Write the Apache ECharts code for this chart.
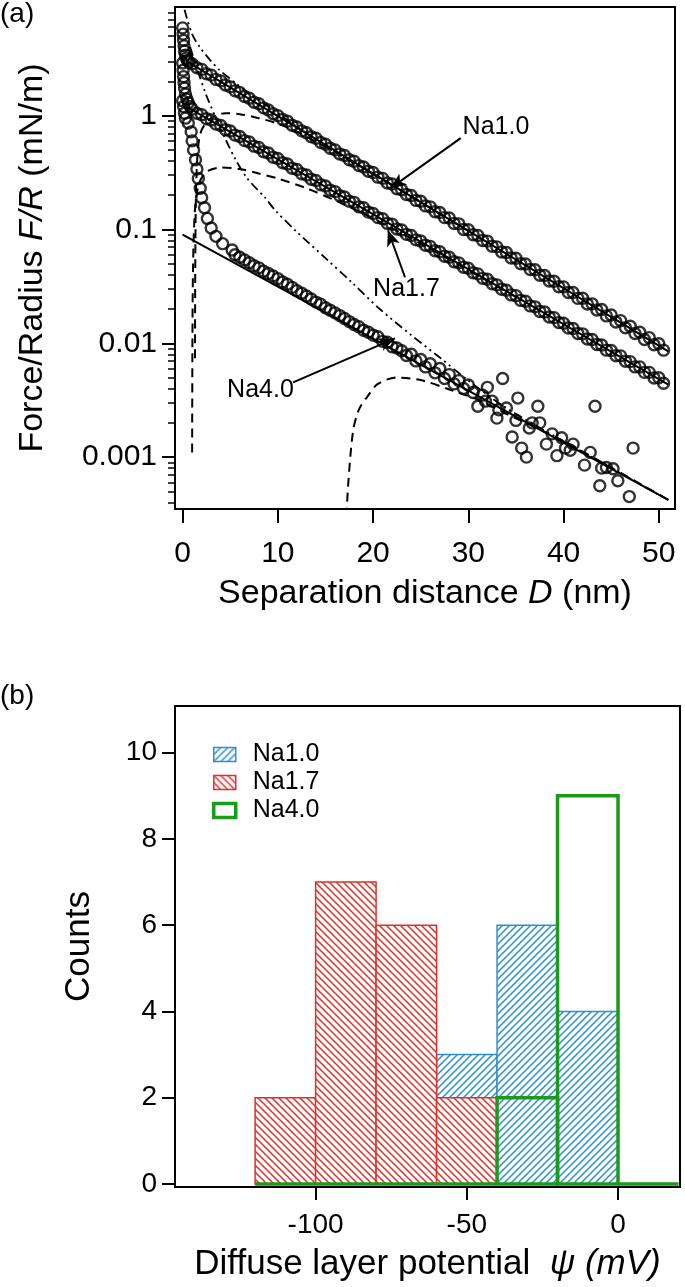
<!DOCTYPE html>
<html><head><meta charset="utf-8">
<script src="https://cdn.jsdelivr.net/npm/echarts@6/dist/echarts.min.js"></script>
<style>html,body{margin:0;padding:0;background:#fff;}#c{width:685px;height:1287px;}</style>
</head><body><div id="c"></div>
<script>
// ================= Panel (a) data =================
// shared separation grid for Na1.0 / Na1.7 (nm)
const D_GRID = [1,1.5,2,2.5,3,3.5,4,4.5,5,5.5,6,6.5,7,7.5,8,8.5,9,9.5,10,10.5,11,11.5,12,12.5,13,13.5,14,14.5,15,15.5,16,16.5,17,17.5,18,18.5,19,19.5,20,20.5,21,21.5,22,22.5,23,23.5,24,24.5,25,25.5,26,26.5,27,27.5,28,28.5,29,29.5,30,30.5,31,31.5,32,32.5,33,33.5,34,34.5,35,35.5,36,36.5,37,37.5,38,38.5,39,39.5,40,40.5,41,41.5,42,42.5,43,43.5,44,44.5,45,45.5,46,46.5,47,47.5,48,48.5,49,49.5,50,50.5];
const na10_F = [2.85,2.63,2.55,2.33,2.27,2.08,2.02,1.86,1.79,1.65,1.60,1.47,1.42,1.31,1.27,1.17,1.12,1.04,1.00,0.925,0.895,0.822,0.795,0.735,0.708,0.652,0.632,0.581,0.561,0.517,0.500,0.460,0.446,0.410,0.397,0.364,0.354,0.325,0.316,0.288,0.281,0.256,0.251,0.228,0.223,0.203,0.199,0.180,0.177,0.161,0.158,0.143,0.141,0.127,0.126,0.113,0.112,0.100,0.0995,0.0898,0.0885,0.0800,0.0790,0.0712,0.0703,0.0633,0.0627,0.0562,0.0558,0.0500,0.0497,0.0445,0.0443,0.0396,0.0394,0.0352,0.0351,0.0314,0.0313,0.0279,0.0279,0.0248,0.0249,0.0221,0.0222,0.0196,0.0198,0.0174,0.0177,0.0154,0.0158,0.0137,0.0141,0.0122,0.0125,0.0108,0.0112,0.0097,0.0099,0.0087];
const na17_F = [1.14,1.05,1.02,0.94,0.915,0.842,0.818,0.752,0.733,0.674,0.656,0.603,0.587,0.539,0.525,0.482,0.469,0.431,0.420,0.386,0.376,0.345,0.336,0.309,0.301,0.276,0.269,0.247,0.241,0.221,0.215,0.198,0.193,0.177,0.173,0.158,0.155,0.142,0.138,0.127,0.124,0.113,0.111,0.101,0.0990,0.0905,0.0885,0.0810,0.0792,0.0726,0.0710,0.0650,0.0636,0.0582,0.0569,0.0520,0.0509,0.0465,0.0456,0.0416,0.0407,0.0372,0.0365,0.0333,0.0326,0.0298,0.0292,0.0266,0.0262,0.0238,0.0234,0.0213,0.0209,0.0190,0.0188,0.0170,0.0168,0.0152,0.0150,0.0136,0.0135,0.0122,0.0121,0.0109,0.0108,0.00975,0.00965,0.00870,0.00865,0.00778,0.00775,0.00695,0.00690,0.00620,0.00620,0.00555,0.00555,0.00495,0.00498,0.00445];
// contact (hard-wall) clusters near D = 0
const na10_contactD = [0.0,0.05,0.1,0.15,0.2,0.3,0.4,0.5,0.7];
const na10_contactF = [5.9,5.2,4.6,4.1,3.7,3.4,3.2,3.05,2.95];
const na17_contactD = [0.0,0.05,0.1,0.15,0.2,0.3,0.45,0.6,0.8];
const na17_contactF = [2.9,2.5,2.2,1.95,1.75,1.55,1.4,1.3,1.2];
// Na4.0 points
const na40_D = [0.0,0.1,0.2,0.3,0.6,0.9,1.0,1.15,1.35,1.5,1.65,1.85,2.0,2.3,2.6,3.0,3.5,4.2,5.2,5.5,6,6.5,7,7.5,8,8.5,9,9.5,10,10.5,11,11.5,12,12.5,13,13.5,14,14.5,15,15.5,16,16.5,17,17.5,18,18.5,19,19.5,20,20.5,21,21.5,22,22.5,23,23.5,24,24.5,25,25.5,26,26.5,27,27.5,28,28.5,29,29.5,30,30.5,31,31.5,32,32.5,33,33.6,34,34.6,35.2,35.6,36.1,36.7,37.3,37.5,38.2,39.3,39.8,40.7,41.0,42.2,43.3,43.8,44.5,45.2,45.7,46.9,47.3,31.8,33.2,35.0,36.4,38.8,40.2,42.8,44.0];
const na40_F = [1.35,1.2,1.05,0.95,0.86,0.72,0.60,0.50,0.41,0.34,0.28,0.23,0.19,0.155,0.125,0.103,0.087,0.075,0.066,0.060,0.057,0.054,0.051,0.048,0.046,0.043,0.041,0.039,0.037,0.0345,0.033,0.031,0.029,0.0275,0.026,0.0245,0.023,0.022,0.0205,0.0195,0.0185,0.0175,0.0165,0.0155,0.0146,0.014,0.013,0.0125,0.0118,0.0114,0.0104,0.0102,0.0093,0.0091,0.0086,0.0078,0.0080,0.0070,0.0072,0.0062,0.0066,0.0055,0.0060,0.0049,0.0053,0.0044,0.0047,0.0040,0.0043,0.0037,0.0028,0.0035,0.0041,0.0031,0.0022,0.0049,0.0027,0.0015,0.0033,0.0012,0.0010,0.0020,0.0028,0.0020,0.0013,0.00103,0.00148,0.00115,0.0013,0.00085,0.0028,0.00056,0.00081,0.00079,0.00062,0.00045,0.0012,0.0031,0.0026,0.0021,0.0018,0.0016,0.0012,0.0011,0.0008];
// fitted exponential lines (end points)
const fit10 = [[0.5,2.98],[51,0.0085]];
const fit17 = [[0.5,1.19],[51,0.00434]];
const fit40 = [[0.0,0.09],[51,0.00042]];
// model curves (dashed)
const dash10_D = [1.3,1.33,1.4,1.6,2.0,3.0,4.5,6,8,10,12,14,17,22,30];
const dash10_F = [0.0074,0.05,0.2,0.5,0.75,0.95,1.05,1.03,0.95,0.85,0.72,0.59,0.43,0.245,0.097];
const dash17_D = [1.0,1.03,1.1,1.3,1.7,2.5,4,6,8,10,13,16,20,25,35];
const dash17_F = [0.0011,0.01,0.05,0.15,0.25,0.32,0.35,0.34,0.31,0.28,0.23,0.18,0.125,0.075,0.0255];
const dash40_D = [17.2,17.4,17.9,18.5,19.4,20.5,22.5,25.2,28.1,31,34,40,51];
const dash40_F = [0.0003,0.0006,0.0017,0.0026,0.0034,0.0044,0.0050,0.0047,0.0039,0.0032,0.0024,0.00138,0.00042];
// model curves (dash-dot)
const dd10_D = [0.2,1.0,1.8,3,3.9,5.5,7,9,12,16,25];
const dd10_F = [8.5,5.2,4.0,3.0,2.5,1.95,1.55,1.2,0.8,0.48,0.175];
const dd40_D = [0.8,1.5,2.5,3.5,4.5,5.5,6.8,8.66,9.7,12,15,17.8,20.7,24,27,30,34,40,51];
const dd40_F = [4.0,2.6,1.5,0.95,0.62,0.42,0.28,0.19,0.148,0.095,0.056,0.034,0.02,0.0118,0.0075,0.0047,0.0027,0.00138,0.00042];
// annotations
const annoText = ['Na1.0','Na1.7','Na4.0'];
const annoAt = [[29.4,0.79],[20.0,0.0298],[4.67,0.00385]];
const arrowFrom = [[29.2,0.634],[23.35,0.038],[11.6,0.00453]];
const arrowTo = [[21.8,0.2296],[21.56,0.0984],[22.3,0.01104]];
// axes (a)
const xTicksA = [0,10,20,30,40,50];
const yTicksA = [0.001,0.01,0.1,1];
const yTickLabelsA = ['0.001','0.01','0.1','1'];
const yMinorA = [0.0004,0.0005,0.0006,0.0007,0.0008,0.0009,0.002,0.003,0.004,0.005,0.006,0.007,0.008,0.009,0.02,0.03,0.04,0.05,0.06,0.07,0.08,0.09,0.2,0.3,0.4,0.5,0.6,0.7,0.8,0.9,2,3,4,5,6,7,8];

// ================= Panel (b) data =================
const binLeft  = [-120,-100,-80,-60,-40,-20,0];
const binRight = [-100,-80,-60,-40,-20,0,20];
const cnt10 = [0,0,0,3,6,4,0];
const cnt17 = [2,7,6,2,0,0,0];
const cnt40 = [0,0,0,0,2,9,0];
const xTicksB = [-100,-50,0];
const yTicksB = [0,2,4,6,8,10];

// ================= styling =================
const FONT = '"Liberation Sans", Arial, Helvetica, sans-serif';
const BLUE = '#2b8fd8', RED = '#e0302a', GREEN = '#1a9c1a';
function hatch(color, dir) {
  const s = 7, c = document.createElement('canvas');
  c.width = s; c.height = s;
  const g = c.getContext('2d');
  g.fillStyle = '#fff'; g.fillRect(0,0,s,s);
  g.strokeStyle = color; g.lineWidth = 1.5; g.beginPath();
  if (dir > 0) { g.moveTo(-1,s+1); g.lineTo(s+1,-1); g.moveTo(-2,2); g.lineTo(2,-2); g.moveTo(s-2,s+2); g.lineTo(s+2,s-2); }
  else { g.moveTo(-1,-1); g.lineTo(s+1,s+1); g.moveTo(s-2,-2); g.lineTo(s+2,2); g.moveTo(-2,s-2); g.lineTo(2,s+2); }
  g.stroke();
  return {image: c, repeat: 'repeat'};
}
const fillBlue = hatch(BLUE, 1), fillRed = hatch(RED, -1);

const zip = (a, b) => a.map((v, i) => [v, b[i]]);
const axisLineA = {show: true, onZero: false, lineStyle: {color: '#000', width: 2}};
const tickStyle = {color: '#000', width: 2};

function scatter(name, pts) {
  return {type: 'scatter', name, xAxisIndex: 0, yAxisIndex: 0, data: pts, symbol: 'circle', symbolSize: 11,
    itemStyle: {color: 'rgba(255,255,255,0)', borderColor: '#000', borderWidth: 2.4}, z: 2, silent: true};
}
function curve(name, pts, type, width) {
  return {type: 'line', name, xAxisIndex: 0, yAxisIndex: 0, data: pts, showSymbol: false, symbol: 'none',
    lineStyle: {color: '#000', width: width || 2, type: type}, z: 3, silent: true, smooth: 0.3};
}
function hist(name, counts, fill, stroke, lw, keepZero, z) {
  return {type: 'custom', name, xAxisIndex: 1, yAxisIndex: 2, z,
    data: binLeft.map((l, i) => [l, binRight[i], counts[i]]),
    encode: {x: [0, 1], y: 2},
    renderItem(params, api) {
      const c = api.value(2);
      if (c <= 0 && !keepZero) return null;
      const p = api.coord([api.value(0), c]), q = api.coord([api.value(1), 0]);
      return {type: 'rect', shape: {x: p[0], y: p[1], width: q[0] - p[0], height: q[1] - p[1]},
        style: {fill: fill, stroke: stroke, lineWidth: lw}};
    }};
}

const dashDot = [9, 4, 2, 4, 2, 4];
const option = {
  animation: false,
  backgroundColor: '#fff',
  textStyle: {fontFamily: FONT, color: '#000'},
  grid: [
    {left: 175, top: 7, width: 500, height: 502, show: true, borderColor: '#000', borderWidth: 2, backgroundColor: 'transparent'},
    {left: 175, top: 706, width: 505, height: 481, show: true, borderColor: '#000', borderWidth: 2, backgroundColor: 'transparent'}
  ],
  xAxis: [
    {gridIndex: 0, type: 'value', min: -0.8, max: 51.7, position: 'bottom', axisLine: axisLineA,
     axisTick: {customValues: xTicksA, length: 14, lineStyle: tickStyle},
     axisLabel: {customValues: xTicksA, fontSize: 30, margin: 30, color: '#000', fontFamily: FONT},
     splitLine: {show: false},
     name: 'Separation distance {i|D} (nm)', nameLocation: 'middle', nameGap: 68,
     nameTextStyle: {fontSize: 34, fontFamily: FONT, color: '#000', rich: {i: {fontSize: 34, fontStyle: 'italic', fontFamily: FONT, color: '#000'}}}},
    {gridIndex: 1, type: 'value', min: -146.5, max: 20.5, position: 'bottom', axisLine: axisLineA,
     axisTick: {customValues: xTicksB, length: 13, lineStyle: tickStyle},
     axisLabel: {customValues: xTicksB, fontSize: 28, margin: 24, color: '#000', fontFamily: FONT},
     splitLine: {show: false},
     name: 'Diffuse layer potential  {i|ψ (mV)}', nameLocation: 'middle', nameGap: 60,
     nameTextStyle: {fontSize: 35, fontFamily: FONT, color: '#000', rich: {i: {fontSize: 35, fontStyle: 'italic', fontFamily: FONT, color: '#000'}}}}
  ],
  yAxis: [
    {gridIndex: 0, type: 'log', logBase: 10, min: 0.00035, max: 9, position: 'left', axisLine: axisLineA,
     axisTick: {customValues: yTicksA, length: 13, lineStyle: tickStyle},
     axisLabel: {customValues: yTicksA, fontSize: 30, margin: 18, color: '#000', fontFamily: FONT,
       formatter: v => { const i = yTicksA.findIndex(t => Math.abs(Math.log10(t) - Math.log10(v)) < 0.01); return i >= 0 ? yTickLabelsA[i] : ''; }},
     splitLine: {show: false}, minorTick: {show: false},
     name: 'Force/Radius {i|F/R} (mN/m)', nameLocation: 'middle', nameGap: 125,
     nameTextStyle: {fontSize: 34, fontFamily: FONT, color: '#000', rich: {i: {fontSize: 34, fontStyle: 'italic', fontFamily: FONT, color: '#000'}}}},
    {gridIndex: 0, type: 'log', logBase: 10, min: 0.00035, max: 9, position: 'left', offset: 0,
     axisLine: {show: false, onZero: false},
     axisTick: {customValues: yMinorA, length: 7, lineStyle: {color: '#000', width: 1.5}},
     axisLabel: {show: false}, splitLine: {show: false}},
    {gridIndex: 1, type: 'value', min: -0.07, max: 11.08, position: 'left', axisLine: axisLineA,
     axisTick: {customValues: yTicksB, length: 13, lineStyle: tickStyle},
     axisLabel: {customValues: yTicksB, fontSize: 28, margin: 18, color: '#000', fontFamily: FONT},
     splitLine: {show: false},
     name: 'Counts', nameLocation: 'middle', nameGap: 78,
     nameTextStyle: {fontSize: 35, fontFamily: FONT, color: '#000'}}
  ],
  legend: {show: true, orient: 'vertical', left: 207, top: 737, itemWidth: 22, itemHeight: 14, itemGap: 3,
    selectedMode: false, textStyle: {fontSize: 25, fontFamily: FONT, color: '#000', padding: [0, 0, 0, 12]},
    data: [
      {name: 'Na1.0', icon: 'rect', itemStyle: {color: fillBlue, borderColor: BLUE, borderWidth: 1.5}},
      {name: 'Na1.7', icon: 'rect', itemStyle: {color: fillRed, borderColor: RED, borderWidth: 1.5}},
      {name: 'Na4.0', icon: 'rect', itemStyle: {color: '#fff', borderColor: GREEN, borderWidth: 3.5}}
    ]},
  graphic: [
    {type: 'text', left: 0, top: 0, style: {text: '(a)', fontSize: 28, fontFamily: FONT, fill: '#000'}},
    {type: 'text', left: 0, top: 682, style: {text: '(b)', fontSize: 28, fontFamily: FONT, fill: '#000'}}
  ],
  series: [
    scatter('Na1.0 data', zip(na10_contactD, na10_contactF).concat(zip(D_GRID, na10_F))),
    scatter('Na1.7 data', zip(na17_contactD, na17_contactF).concat(zip(D_GRID, na17_F))),
    scatter('Na4.0 data', zip(na40_D, na40_F)),
    curve('Na1.0 dashed', zip(dash10_D, dash10_F), [9, 6]),
    curve('Na1.7 dashed', zip(dash17_D, dash17_F), [9, 6]),
    curve('Na4.0 dashed', zip(dash40_D, dash40_F), [9, 6]),
    curve('Na1.0 dashdot', zip(dd10_D, dd10_F), dashDot, 1.8),
    curve('Na4.0 dashdot', zip(dd40_D, dd40_F), dashDot, 1.8),
    Object.assign(curve('Na1.0 fit', fit10, 'solid', 2), {smooth: false}),
    Object.assign(curve('Na1.7 fit', fit17, 'solid', 2), {smooth: false}),
    Object.assign(curve('Na4.0 fit', fit40, 'solid', 2), {smooth: false,
      markLine: {silent: true, symbol: ['none', 'arrow'], symbolSize: [10, 16], label: {show: false},
        lineStyle: {color: '#000', width: 2, type: 'solid'},
        data: arrowFrom.map((f, i) => [{coord: f}, {coord: arrowTo[i]}])},
      markPoint: {silent: true, symbol: 'circle', symbolSize: 0,
        label: {show: true, position: 'right', distance: 0, fontSize: 25, fontFamily: FONT, color: '#000', formatter: p => p.name},
        data: annoAt.map((c, i) => ({name: annoText[i], coord: c}))}}),
    hist('Na1.0', cnt10, fillBlue, BLUE, 1.5, false, 2),
    hist('Na1.7', cnt17, fillRed, RED, 1.5, false, 3),
    hist('Na4.0', cnt40, 'none', GREEN, 3.5, true, 4)
  ]
};
const chart = echarts.init(document.getElementById('c'), null, {renderer: 'canvas', width: 685, height: 1287});
chart.setOption(option);
</script></body></html>
